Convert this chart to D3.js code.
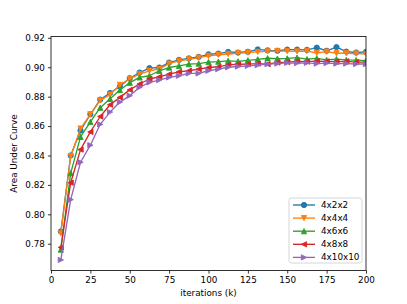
<!DOCTYPE html>
<html>
<head>
<meta charset="utf-8">
<script src="https://cdn.jsdelivr.net/npm/d3@7"></script>
<style>
  body { margin: 0; background: #fff; }
  text { font-family: "DejaVu Sans", sans-serif; fill: #000; }
</style>
</head>
<body>
<div id="chart"></div>
<script>
// iterations (k) at which each run was evaluated
const iters = d3.range(1, 33).map(i => i * 6.25);

const names = ["4x2x2", "4x4x4", "4x6x6", "4x8x8", "4x10x10"];
const colors = ["#1f77b4", "#ff7f0e", "#2ca02c", "#d62728", "#9467bd"];
const markers = ["o", "v", "^", "<", ">"];

const auc4x2x2 = [0.7883, 0.8400, 0.8570, 0.8680, 0.8780, 0.8825, 0.8870, 0.8925, 0.8964, 0.8994,
  0.8998, 0.9032, 0.9050, 0.9060, 0.9070, 0.9088, 0.9093, 0.9104, 0.9100, 0.9105,
  0.9121, 0.9115, 0.9112, 0.9120, 0.9120, 0.9118, 0.9133, 0.9112, 0.9137, 0.9106, 0.9100, 0.9104];
const auc4x4x4 = [0.7870, 0.8395, 0.8583, 0.8680, 0.8775, 0.8814, 0.8880, 0.8920, 0.8953, 0.8976,
  0.8987, 0.9025, 0.9043, 0.9054, 0.9065, 0.9077, 0.9085, 0.9090, 0.9095, 0.9100,
  0.9104, 0.9108, 0.9110, 0.9110, 0.9108, 0.9110, 0.9097, 0.9106, 0.9095, 0.9095, 0.9093, 0.9090];
const auc4x6x6 = [0.7760, 0.8280, 0.8527, 0.8628, 0.8725, 0.8785, 0.8845, 0.8895, 0.8931, 0.8942,
  0.8976, 0.8998, 0.9009, 0.9021, 0.9025, 0.9035, 0.9038, 0.9043, 0.9040, 0.9047,
  0.9054, 0.9061, 0.9058, 0.9060, 0.9065, 0.9055, 0.9060, 0.9050, 0.9055, 0.9050, 0.9048, 0.9045];
const auc4x8x8 = [0.7775, 0.8215, 0.8440, 0.8560, 0.8665, 0.8745, 0.8795, 0.8846, 0.8886, 0.8920,
  0.8935, 0.8953, 0.8969, 0.8976, 0.8987, 0.8998, 0.9003, 0.9016, 0.9020, 0.9021,
  0.9025, 0.9021, 0.9032, 0.9035, 0.9040, 0.9038, 0.9042, 0.9040, 0.9038, 0.9040, 0.9035, 0.9035];
const auc4x10x10 = [0.7690, 0.8100, 0.8354, 0.8470, 0.8612, 0.8695, 0.8763, 0.8807, 0.8864, 0.8897,
  0.8913, 0.8931, 0.8942, 0.8958, 0.8958, 0.8976, 0.8987, 0.9000, 0.9005, 0.9009,
  0.9014, 0.9021, 0.9025, 0.9030, 0.9028, 0.9030, 0.9025, 0.9028, 0.9025, 0.9025, 0.9022, 0.9022];

const series = [auc4x2x2, auc4x4x4, auc4x6x6, auc4x8x8, auc4x10x10];

const xTicks = [0, 25, 50, 75, 100, 125, 150, 175, 200];
const yTicks = [0.78, 0.80, 0.82, 0.84, 0.86, 0.88, 0.90, 0.92];

const width = 407, height = 304;
const margin = { left: 51, right: 41, top: 36.5, bottom: 33.5 };

const svg = d3.select("#chart").append("svg")
  .attr("width", width)
  .attr("height", height);

const x = d3.scaleLinear().domain([0, 200]).range([margin.left, width - margin.right]);
const y = d3.scaleLinear().domain([0.7618, 0.9209]).range([height - margin.bottom, margin.top]);

// matplotlib style marker paths, r = half of marker size
const ms = 2.65;
function markerPath(type) {
  if (type === "o") {
    const p = d3.path();
    p.arc(0, 0, ms, 0, 2 * Math.PI);
    return p.toString();
  }
  let pts = [[0, -ms], [-ms, ms], [ms, ms]]; // "^"
  if (type === "v") pts = [[0, ms], [-ms, -ms], [ms, -ms]];
  if (type === "<") pts = [[-ms, 0], [ms, -ms], [ms, ms]];
  if (type === ">") pts = [[ms, 0], [-ms, -ms], [-ms, ms]];
  return "M" + pts.map(p => p.join(",")).join("L") + "Z";
}

const line = d3.line()
  .x(d => x(d[0]))
  .y(d => y(d[1]));

const plot = svg.append("g");
plot.append("clipPath").attr("id", "clip")
  .append("rect")
  .attr("x", margin.left).attr("y", margin.top)
  .attr("width", width - margin.left - margin.right)
  .attr("height", height - margin.top - margin.bottom);

series.forEach(function (vals, s) {
  const pts = iters.map((it, i) => [it, vals[i]]);
  const g = plot.append("g").attr("clip-path", "url(#clip)");
  g.append("path")
    .attr("d", line(pts))
    .attr("fill", "none")
    .attr("stroke", colors[s])
    .attr("stroke-width", 1.35)
    .attr("stroke-linejoin", "round");
  g.selectAll(".m")
    .data(pts)
    .enter()
    .append("path")
    .attr("d", markerPath(markers[s]))
    .attr("transform", d => "translate(" + x(d[0]) + "," + y(d[1]) + ")")
    .attr("fill", colors[s])
    .attr("stroke", colors[s])
    .attr("stroke-width", 0.9);
});

// axes
const xAxis = d3.axisBottom(x).tickValues(xTicks).tickSize(3.1).tickPadding(3).tickFormat(d3.format("d"));
const yAxis = d3.axisLeft(y).tickValues(yTicks).tickSize(3.1).tickPadding(3).tickFormat(d3.format(".2f"));

const gx = svg.append("g")
  .attr("transform", "translate(0," + (height - margin.bottom) + ")")
  .call(xAxis);
const gy = svg.append("g")
  .attr("transform", "translate(" + margin.left + ",0)")
  .call(yAxis);

[gx, gy].forEach(function (g) {
  g.select(".domain").remove();
  g.selectAll(".tick line").attr("stroke", "#000").attr("stroke-width", 0.8);
  g.selectAll(".tick text").style("font-size", "8.8px").attr("fill", "#000");
});

// frame
svg.append("rect")
  .attr("x", margin.left).attr("y", margin.top)
  .attr("width", width - margin.left - margin.right)
  .attr("height", height - margin.top - margin.bottom)
  .attr("fill", "none")
  .attr("stroke", "#000")
  .attr("stroke-width", 0.8);

svg.append("text")
  .attr("x", (margin.left + width - margin.right) / 2)
  .attr("y", 296)
  .attr("text-anchor", "middle")
  .style("font-size", "8.8px")
  .text("iterations (k)");

svg.append("text")
  .attr("transform", "translate(17," + ((margin.top + height - margin.bottom) / 2) + ") rotate(-90)")
  .attr("text-anchor", "middle")
  .style("font-size", "8.8px")
  .text("Area Under Curve");

// legend
const legend = svg.append("g").attr("transform", "translate(289,198)");
legend.append("rect")
  .attr("width", 73).attr("height", 65)
  .attr("rx", 2.5)
  .attr("fill", "#fff").attr("fill-opacity", 0.8)
  .attr("stroke", "#ccc").attr("stroke-width", 0.8);

const item = legend.selectAll(".item")
  .data(names)
  .enter()
  .append("g")
  .attr("transform", (d, i) => "translate(0," + (7 + i * 13.1) + ")");

item.append("line")
  .attr("x1", 4).attr("x2", 26)
  .attr("stroke", (d, i) => colors[i])
  .attr("stroke-width", 1.35);
item.append("path")
  .attr("d", (d, i) => markerPath(markers[i]))
  .attr("transform", "translate(15,0)")
  .attr("fill", (d, i) => colors[i])
  .attr("stroke", (d, i) => colors[i])
  .attr("stroke-width", 0.9);
item.append("text")
  .attr("x", 32)
  .attr("dy", "0.35em")
  .style("font-size", "8.8px")
  .text(d => d);
</script>
</body>
</html>
